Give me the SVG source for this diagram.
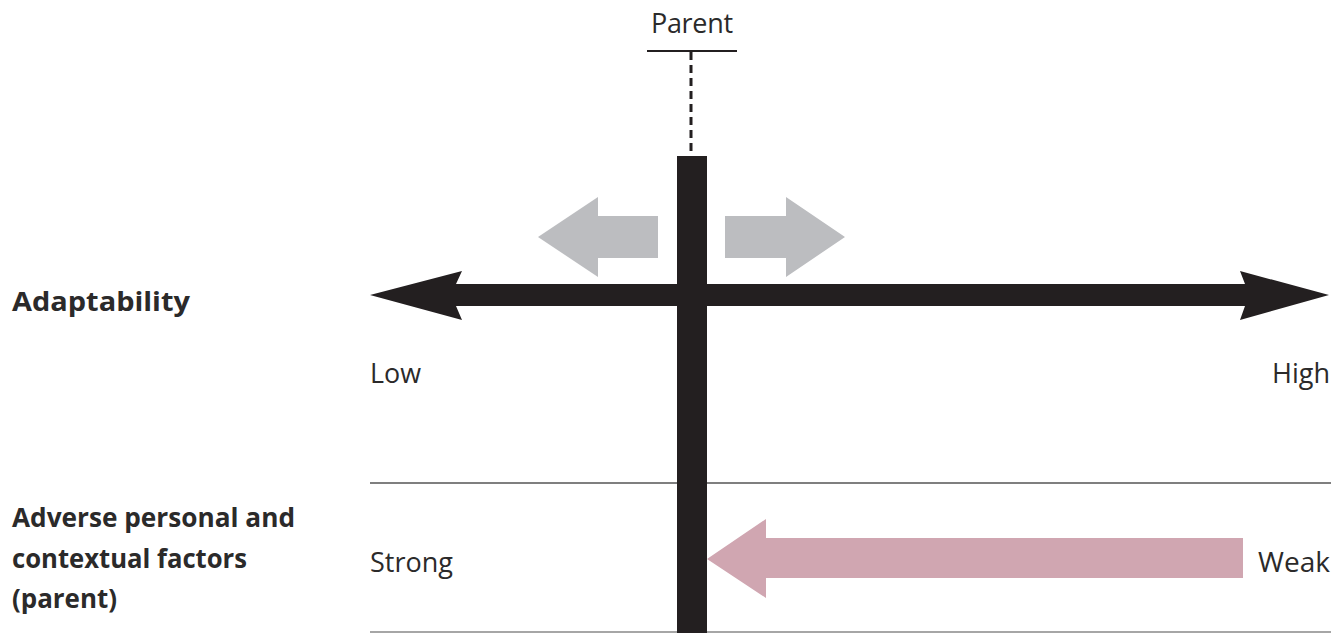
<svg xmlns="http://www.w3.org/2000/svg" width="1339" height="633" viewBox="0 0 1339 633">
<style>
text{font-family:"Open Sans","Noto Sans","Liberation Sans",sans-serif;font-size:27px;fill:#2b2a2a}
.b{font-weight:bold}
.grey{fill:#bcbdc0}
.pink{fill:#d0a6b1}
.blk{fill:#231f20}
</style>
<rect width="1339" height="633" fill="#fff"/>
<g id="parent">
<text x="692" y="33" text-anchor="middle" textLength="82">Parent</text>
<line x1="647" y1="51" x2="737" y2="51" stroke="#231f20" stroke-width="2"/>
<line x1="691" y1="52" x2="691" y2="156" stroke="#231f20" stroke-width="3" stroke-dasharray="8,5"/>
</g>
<g id="axes">
<line x1="370" y1="483" x2="1331" y2="483" stroke="#555" stroke-width="1.5"/>
<line x1="370" y1="632" x2="1331" y2="632" stroke="#888" stroke-width="1.5"/>
<path class="blk" d="M370,295 L462,271 L456,284 L1245,284 L1240,271 L1329,295 L1240,320 L1245,306 L456,306 L462,320 Z"/>
</g>
<g id="pink-arrow">
<path class="pink" d="M707,559 L766,519 L766,538 L1243,538 L1243,578 L766,578 L766,598 Z"/>
</g>
<g id="grey-arrows">
<path class="grey" d="M538,237 L598,197 L598,216 L658,216 L658,258 L598,258 L598,277 Z"/>
<path class="grey" d="M845,237 L786,197 L786,216 L725,216 L725,258 L786,258 L786,277 Z"/>
</g>
<g id="bar">
<rect class="blk" x="677" y="156" width="30" height="477"/>
</g>
<g id="labels">
<text class="b" x="12" y="311" textLength="178" lengthAdjust="spacingAndGlyphs">Adaptability</text>
<text x="370" y="383" textLength="51" lengthAdjust="spacingAndGlyphs">Low</text>
<text x="1330" y="383" text-anchor="end" textLength="58" lengthAdjust="spacingAndGlyphs">High</text>
<text class="b" x="12" y="527" textLength="283" lengthAdjust="spacingAndGlyphs">Adverse personal and</text>
<text class="b" x="12" y="568" textLength="235" lengthAdjust="spacingAndGlyphs">contextual factors</text>
<text class="b" x="12" y="608" textLength="105" lengthAdjust="spacingAndGlyphs">(parent)</text>
<text x="370" y="572" textLength="83" lengthAdjust="spacingAndGlyphs">Strong</text>
<text x="1330" y="572" text-anchor="end" textLength="72" lengthAdjust="spacingAndGlyphs">Weak</text>
</g>
</svg>
